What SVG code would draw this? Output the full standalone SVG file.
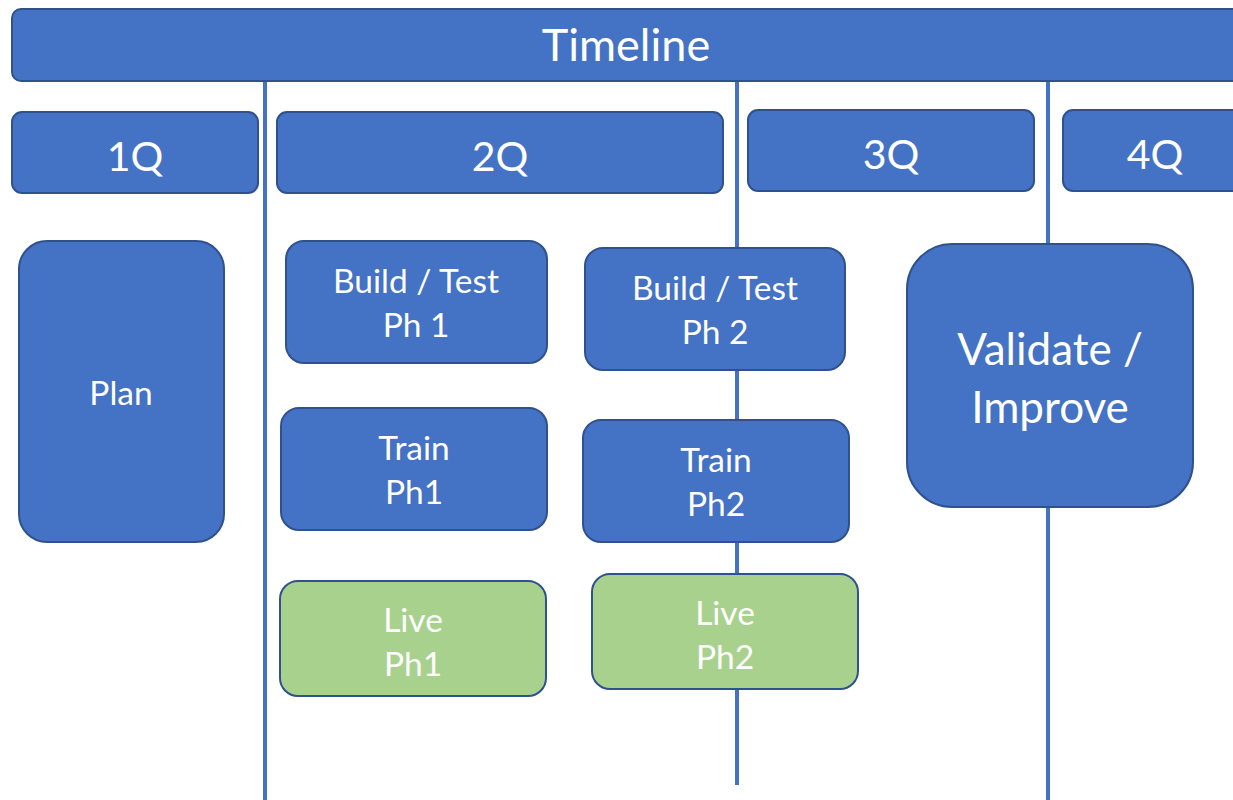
<svg xmlns="http://www.w3.org/2000/svg" width="1233" height="800" viewBox="0 0 1233 800">
<style>
.b{fill:#4472C4;stroke:#2F528F;stroke-width:2}
.g{fill:#A9D18E;stroke:#2F528F;stroke-width:2}
.t{fill:#fff;font-family:Lato,"Open Sans",sans-serif;text-anchor:middle}
.s{font-size:33.5px}
.ln{stroke:#4472C4;stroke-width:4;fill:none}
</style>
<rect width="1233" height="800" fill="#fff"/>
<g id="connectors">
<line class="ln" x1="265" y1="80" x2="265" y2="800"/>
<line class="ln" x1="737" y1="80" x2="737" y2="785"/>
<line class="ln" x1="1048" y1="80" x2="1048" y2="800"/>
</g>
<g id="timeline"><rect class="b" x="12" y="9" width="1240" height="72" rx="9"/><text class="t" x="626" y="61" font-size="45">Timeline</text></g>
<g id="q1"><rect class="b" x="12" y="112" width="246" height="81" rx="10"/><text class="t" x="135" y="171" font-size="41">1Q</text></g>
<g id="q2"><rect class="b" x="277" y="112" width="446" height="81" rx="10"/><text class="t" x="500" y="171" font-size="41">2Q</text></g>
<g id="q3"><rect class="b" x="748" y="110" width="286" height="81" rx="10"/><text class="t" x="891" y="169" font-size="41">3Q</text></g>
<g id="q4"><rect class="b" x="1063" y="110" width="200" height="81" rx="10"/><text class="t" x="1155" y="169" font-size="41">4Q</text></g>
<g id="plan"><rect class="b" x="19" y="241" width="205" height="301" rx="28"/><text class="t s" x="121" y="405">Plan</text></g>
<g id="build1"><rect class="b" x="286" y="241" width="261" height="122" rx="18"/><text class="t s" x="416" y="293">Build / Test</text><text class="t s" x="416" y="337">Ph 1</text></g>
<g id="build2"><rect class="b" x="585" y="248" width="260" height="122" rx="18"/><text class="t s" x="715" y="300">Build / Test</text><text class="t s" x="715" y="344">Ph 2</text></g>
<g id="train1"><rect class="b" x="281" y="408" width="266" height="122" rx="18"/><text class="t s" x="414" y="460">Train</text><text class="t s" x="414" y="504">Ph1</text></g>
<g id="train2"><rect class="b" x="583" y="420" width="266" height="122" rx="18"/><text class="t s" x="716" y="472">Train</text><text class="t s" x="716" y="516">Ph2</text></g>
<g id="live1"><rect class="g" x="280" y="581" width="266" height="115" rx="18"/><text class="t s" x="413" y="632">Live</text><text class="t s" x="413" y="676">Ph1</text></g>
<g id="live2"><rect class="g" x="592" y="574" width="266" height="115" rx="18"/><text class="t s" x="725" y="625">Live</text><text class="t s" x="725" y="669">Ph2</text></g>
<g id="validate"><rect class="b" x="907" y="244" width="286" height="263" rx="45"/><text class="t" x="1050" y="365" font-size="44">Validate /</text><text class="t" x="1050" y="423" font-size="44">Improve</text></g>
</svg>
